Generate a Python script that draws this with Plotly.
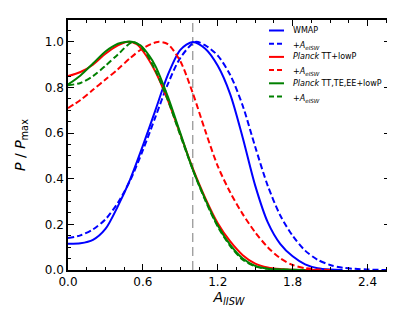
import plotly.graph_objects as go

# ---- data ----
x_wmap = [0.0, 0.1, 0.2, 0.3, 0.4, 0.5, 0.6, 0.7, 0.8, 0.9, 1.0, 1.1, 1.2, 1.3, 1.4, 1.5, 1.6, 1.7, 1.8, 1.9, 2.0, 2.1, 2.2]
y_wmap = [0.115, 0.117, 0.132, 0.18, 0.28, 0.40, 0.545, 0.70, 0.855, 0.965, 1.0, 0.97, 0.895, 0.77, 0.58, 0.37, 0.21, 0.115, 0.06, 0.025, 0.008, 0.002, 0.0]

x_wmap_e = [0.0, 0.1, 0.2, 0.3, 0.4, 0.5, 0.6, 0.7, 0.8, 0.9, 1.02, 1.1, 1.2, 1.3, 1.4, 1.5, 1.6, 1.7, 1.8, 1.9, 2.0, 2.1, 2.2, 2.3, 2.4, 2.55]
y_wmap_e = [0.14, 0.152, 0.178, 0.222, 0.295, 0.395, 0.525, 0.67, 0.815, 0.93, 1.0, 0.985, 0.94, 0.855, 0.72, 0.54, 0.37, 0.24, 0.15, 0.085, 0.045, 0.022, 0.01, 0.005, 0.002, 0.0]

x_tt = [0.0, 0.1, 0.2, 0.3, 0.4, 0.47, 0.55, 0.6, 0.7, 0.8, 0.9, 1.0, 1.1, 1.2, 1.3, 1.4, 1.5, 1.6, 1.7, 1.8, 2.0]
y_tt = [0.85, 0.868, 0.90, 0.948, 0.985, 1.0, 0.99, 0.96, 0.87, 0.745, 0.595, 0.445, 0.315, 0.205, 0.125, 0.065, 0.028, 0.011, 0.004, 0.001, 0.0]

x_tt_e = [0.0, 0.1, 0.2, 0.3, 0.4, 0.5, 0.6, 0.72, 0.8, 0.9, 1.0, 1.1, 1.2, 1.3, 1.4, 1.5, 1.6, 1.7, 1.8, 1.9, 2.0, 2.1]
y_tt_e = [0.71, 0.745, 0.79, 0.835, 0.88, 0.93, 0.972, 1.0, 0.99, 0.915, 0.775, 0.61, 0.455, 0.34, 0.245, 0.165, 0.10, 0.052, 0.022, 0.008, 0.002, 0.0]

x_all = [0.0, 0.1, 0.2, 0.3, 0.4, 0.46, 0.52, 0.58, 0.65, 0.7, 0.8, 0.9, 1.0, 1.1, 1.2, 1.3, 1.4, 1.5, 1.6, 1.7, 1.9]
y_all = [0.813, 0.853, 0.905, 0.958, 0.992, 1.0, 1.0, 0.985, 0.94, 0.895, 0.76, 0.60, 0.44, 0.31, 0.195, 0.11, 0.05, 0.018, 0.006, 0.002, 0.0]

x_all_e = [0.0, 0.1, 0.2, 0.3, 0.4, 0.52, 0.6, 0.7, 0.8, 0.9, 1.0, 1.1, 1.2, 1.3, 1.4, 1.5, 1.6, 1.7, 1.9]
y_all_e = [0.81, 0.82, 0.85, 0.895, 0.945, 1.0, 0.97, 0.875, 0.745, 0.59, 0.44, 0.305, 0.19, 0.105, 0.045, 0.016, 0.005, 0.002, 0.0]

A_ref = 1.0

x_ticks = [0.0, 0.6, 1.2, 1.8, 2.4]
y_ticks = [0.0, 0.2, 0.4, 0.6, 0.8, 1.0]

ESW = "+<i>A</i><sub><i>eISW</i></sub>"
names = ["WMAP", ESW, "<i>Planck</i> TT+lowP", ESW, "<i>Planck</i> TT,TE,EE+lowP", ESW]
series = [(x_wmap, y_wmap), (x_wmap_e, y_wmap_e), (x_tt, y_tt), (x_tt_e, y_tt_e), (x_all, y_all), (x_all_e, y_all_e)]
colors = ["#0000ff", "#0000ff", "#ff0000", "#ff0000", "#008000", "#008000"]
dashes = ["solid", "6px,3px", "solid", "6px,3px", "solid", "6px,3px"]

# ---- layout geometry (pixels) ----
W, H = 395, 310
ML, MR, MT, MB = 60, 13, 12, 48
PW, PH = W - ML - MR, H - MT - MB

fig = go.Figure()
for (xs, ys), nm, c, d in zip(series, names, colors, dashes):
    fig.add_trace(go.Scatter(x=xs, y=ys, mode="lines", name=nm, showlegend=False,
                             line=dict(color=c, width=2, dash=d, shape="spline", smoothing=0.8)))

fig.add_shape(type="line", xref="x", yref="paper", x0=A_ref, x1=A_ref, y0=0, y1=1,
              line=dict(color="#7a7a7a", width=1, dash="9px,5px"), layer="below")

# ---- compact legend (drawn as keys + labels, matplotlib style) ----
leg_line_x0, leg_line_x1, leg_text_x = 261, 276, 283
leg_row0, leg_row_step = 22.5, 13.2
for i, (nm, c, d) in enumerate(zip(names, colors, dashes)):
    py = leg_row0 + i * leg_row_step
    yp = (H - MB - py) / PH
    fig.add_shape(type="line", xref="paper", yref="paper",
                  x0=(leg_line_x0 - ML) / PW, x1=(leg_line_x1 - ML) / PW, y0=yp, y1=yp,
                  line=dict(color=c, width=2, dash="5px,3px" if d != "solid" else "solid"))
    fig.add_annotation(xref="paper", yref="paper", x=(leg_text_x - ML) / PW, y=yp,
                       xanchor="left", yanchor="middle", text=nm, showarrow=False,
                       yshift=-2 if "<sub>" in nm else 0,
                       font=dict(family="DejaVu Sans", size=8, color="black"))

axis_common = dict(showgrid=False, zeroline=False, showline=True, linecolor="black", linewidth=1.5,
                   mirror="allticks", ticks="inside", ticklen=6, tickwidth=1, tickcolor="black",
                   automargin=False,
                   tickfont=dict(family="DejaVu Sans", size=12, color="black"))

fig.update_xaxes(range=[0, 2.58], tickvals=x_ticks, ticktext=[f"{v:.1f}" for v in x_ticks],
                 minor=dict(dtick=0.15, tick0=0, ticks="inside", ticklen=3, tickcolor="black", tickwidth=1),
                 title=dict(text="<i>A</i><sub><i>lISW</i></sub>", font=dict(family="DejaVu Sans", size=14, color="black"), standoff=0),
                 **axis_common)
fig.update_yaxes(range=[0, 1.096], tickvals=y_ticks, ticktext=[f"{v:.1f}" for v in y_ticks],
                 minor=dict(dtick=0.05, tick0=0, ticks="inside", ticklen=3, tickcolor="black", tickwidth=1),
                 title=dict(text="<i>P</i> / <i>P</i><sub>max</sub>", font=dict(family="DejaVu Sans", size=14, color="black"), standoff=16),
                 **axis_common)

fig.update_layout(width=W, height=H, margin=dict(l=ML, r=MR, t=MT, b=MB),
                  plot_bgcolor="white", paper_bgcolor="white", showlegend=False)

fig.write_html("out.html")
